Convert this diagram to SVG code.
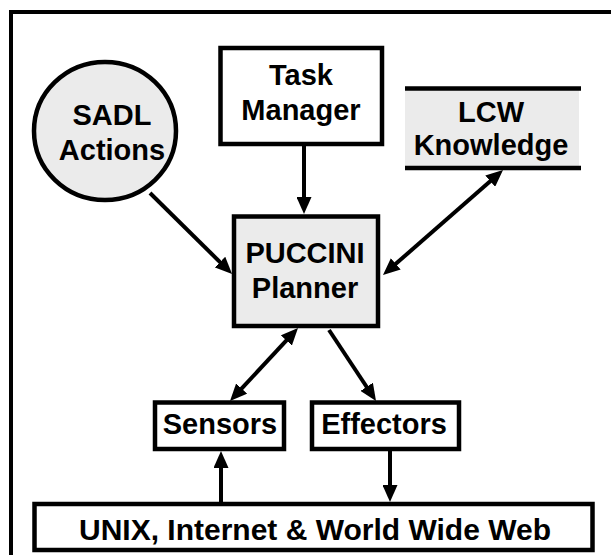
<svg xmlns="http://www.w3.org/2000/svg" width="611" height="555" viewBox="0 0 611 555">
<style>
.box{stroke:#000;stroke-width:4.5;fill:#fff}
.gray{fill:#ebebeb}
.t{font-family:"Liberation Sans",Arial,sans-serif;font-weight:bold;font-size:29px;text-anchor:middle;fill:#000}
.c{stroke:#000;stroke-width:4;fill:none}
</style>
<defs>
<marker id="ah" markerUnits="userSpaceOnUse" markerWidth="17" markerHeight="15" refX="11" refY="7.5" orient="auto-start-reverse">
<path d="M0,0 L17,7.5 L0,15 z" fill="#000"/>
</marker>
</defs>
<rect width="611" height="555" fill="#fff"/>
<path d="M11,555 V12 H611" class="c" stroke-width="4.5"/>
<g id="sadl">
<ellipse cx="105" cy="131" rx="71" ry="69" class="box gray" stroke="#000"/>
<text class="t" x="112" y="125">SADL</text>
<text class="t" x="112" y="160">Actions</text>
</g>
<g id="task">
<rect x="220.5" y="48" width="161.5" height="96" class="box"/>
<text class="t" x="301" y="85">Task</text>
<text class="t" x="301" y="120">Manager</text>
</g>
<g id="lcw">
<rect x="405" y="90" width="174" height="77" class="gray"/>
<line x1="405" y1="88.5" x2="581" y2="88.5" stroke="#000" stroke-width="4.5"/>
<line x1="405" y1="168" x2="581" y2="168" stroke="#000" stroke-width="4.5"/>
<text class="t" x="491" y="122">LCW</text>
<text class="t" x="491" y="155">Knowledge</text>
</g>
<g id="puccini">
<rect x="234" y="216.5" width="144" height="109.5" class="box gray" stroke="#000"/>
<text class="t" x="305" y="263">PUCCINI</text>
<text class="t" x="305" y="298">Planner</text>
</g>
<g id="sensors">
<rect x="155" y="402.5" width="129" height="46.5" class="box"/>
<text class="t" x="220" y="434">Sensors</text>
</g>
<g id="effectors">
<rect x="312" y="402.5" width="147" height="46.5" class="box"/>
<text class="t" x="384" y="434">Effectors</text>
</g>
<g id="unix">
<rect x="34.5" y="504" width="558" height="46" class="box"/>
<text class="t" x="315" y="540" style="font-size:30px">UNIX, Internet &amp; World Wide Web</text>
</g>
<g id="connectors">
<line class="c" x1="150" y1="193" x2="227.8" y2="269.8" marker-end="url(#ah)"/>
<line class="c" x1="304" y1="146" x2="304" y2="208" marker-end="url(#ah)"/>
<line class="c" x1="387.5" y1="271.1" x2="498.5" y2="173.9" marker-start="url(#ah)" marker-end="url(#ah)"/>
<line class="c" x1="293.9" y1="332.4" x2="234.1" y2="396.6" marker-start="url(#ah)" marker-end="url(#ah)"/>
<line class="c" x1="329" y1="330" x2="372.7" y2="396" marker-end="url(#ah)"/>
<line class="c" x1="221" y1="502" x2="221" y2="457" marker-end="url(#ah)"/>
<line class="c" x1="390" y1="451" x2="390" y2="496" marker-end="url(#ah)"/>
</g>
</svg>
